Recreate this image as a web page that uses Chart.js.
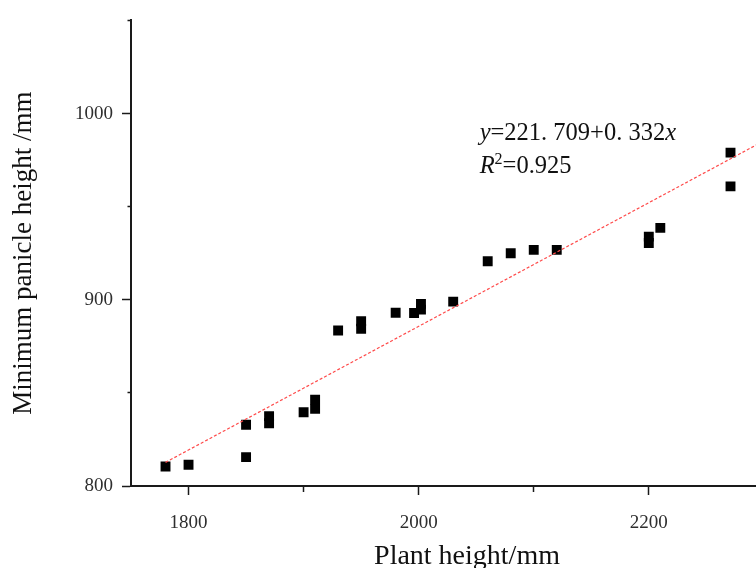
<!DOCTYPE html>
<html>
<head>
<meta charset="utf-8">
<script src="https://cdn.jsdelivr.net/npm/chart.js@4/dist/chart.umd.min.js"></script>
<style>
  html, body { margin: 0; padding: 0; background: #fff; overflow: hidden; width: 756px; height: 568px; }
  #wrap { width: 810px; height: 568px; }
</style>
</head>
<body>
<div id="wrap"><canvas id="c" width="810" height="568"></canvas></div>
<script>
// ---- data ----
const plantHeight   = [1780, 1800, 1850, 1850, 1870, 1870, 1900, 1910, 1910, 1930, 1950, 1950, 1980, 1996, 2002, 2002, 2030, 2060, 2080, 2100, 2120, 2200, 2200, 2210, 2271, 2271];
const panicleHeight = [810.5, 811.4, 832.9, 815.5, 837.5, 833.7, 839.6, 846.4, 841.4, 883.5, 888.5, 884.4, 893.0, 892.9, 897.8, 894.7, 899.0, 920.7, 925.0, 926.8, 926.8, 933.9, 930.5, 938.6, 979.0, 960.9];

// fitted line y = 221.709 + 0.332x, drawn between these end points
const fitIntercept = 221.709;
const fitSlope = 0.332;
const rSquared = 0.925;
const fitLineX = [1780, 2334];
const fitLineY = [812.7, 996.6];

const xTickLabels = [1800, 2000, 2200];
const yTickLabels = [800, 900, 1000];

const xTitle = 'Plant height/mm';
const yTitle = 'Minimum panicle height /mm';

// ---- chart ----
const SERIF = '"Liberation Serif", "Times New Roman", serif';
const AXIS = '#1a1a1a';

const scatterPoints = plantHeight.map((x, i) => ({ x: x, y: panicleHeight[i] }));
const fitPoints = fitLineX.map((x, i) => ({ x: x, y: fitLineY[i] }));

const equationPlugin = {
  id: 'equationText',
  afterDatasetsDraw(chart, args, opts) {
    const { ctx, scales } = chart;
    const px = scales.x.getPixelForValue(opts.atX);
    const py1 = scales.y.getPixelForValue(opts.line1Y);
    const py2 = scales.y.getPixelForValue(opts.line2Y);
    const size = opts.size;
    ctx.save();
    ctx.fillStyle = '#111';
    ctx.textAlign = 'left';
    ctx.textBaseline = 'alphabetic';
    const fmt = v => String(v).replace('.', '. ');
    const line1 = [['italic', 'y', size, 0], ['normal', '=' + fmt(fitIntercept) + '+' + fmt(fitSlope), size, 0], ['italic', 'x', size, 0]];
    const line2 = [['italic', 'R', size, 0], ['normal', '2', Math.round(size * 0.64), -Math.round(size * 0.36)], ['normal', '=' + rSquared.toFixed(3), size, 0]];
    [[line1, py1], [line2, py2]].forEach(([segs, py]) => {
      let cx = px;
      segs.forEach(([style, txt, fs, dy]) => {
        ctx.font = style + ' ' + fs + 'px ' + SERIF;
        ctx.fillText(txt, cx, py + dy);
        cx += ctx.measureText(txt).width;
      });
    });
    ctx.restore();
  }
};

new Chart(document.getElementById('c'), {
  data: {
    datasets: [
      {
        type: 'line',
        data: fitPoints,
        borderColor: '#ff4a4a',
        borderWidth: 1.2,
        borderDash: [3, 2],
        pointRadius: 0,
        fill: false,
        tension: 0
      },
      {
        type: 'scatter',
        data: scatterPoints,
        pointStyle: 'rect',
        pointRadius: 7,
        pointHoverRadius: 7,
        backgroundColor: '#000',
        borderColor: '#000',
        borderWidth: 0
      }
    ]
  },
  options: {
    responsive: false,
    animation: false,
    events: [],
    layout: { padding: { top: 19, right: 0, bottom: 0, left: 0 } },
    plugins: {
      legend: { display: false },
      tooltip: { enabled: false },
      equationText: { atX: 2053, line1Y: 985.8, line2Y: 968.3, size: 24.5 }
    },
    scales: {
      x: {
        type: 'linear',
        position: 'bottom',
        min: 1750,
        max: 2334,
        afterFit(s) { s.height = 82; },
        border: { display: true, color: AXIS, width: 2 },
        grid: {
          drawOnChartArea: false,
          drawTicks: true,
          tickLength: 9,
          tickColor: AXIS,
          tickWidth: 1.5,
          tickBorderDash: c => (c.tick && c.tick.value % 200 !== 0) ? [5, 100] : []
        },
        ticks: {
          stepSize: 100,
          includeBounds: false,
          autoSkip: false,
          maxRotation: 0,
          padding: 17,
          color: '#2e2e2e',
          font: { family: SERIF, size: 19 },
          callback: v => xTickLabels.includes(v) ? String(v) : ''
        },
        title: {
          display: true,
          text: xTitle,
          color: '#111',
          font: { family: SERIF, size: 28, lineHeight: 1 },
          padding: { top: 0, bottom: -3 }
        }
      },
      y: {
        type: 'linear',
        position: 'left',
        min: 800,
        max: 1050,
        afterFit(s) { s.width = 131; },
        border: { display: true, color: AXIS, width: 2 },
        grid: {
          drawOnChartArea: false,
          drawTicks: true,
          tickLength: 9,
          tickColor: AXIS,
          tickWidth: 1.5,
          tickBorderDash: c => (c.tick && c.tick.value % 100 !== 0) ? [0, 5.5, 3.5, 100] : []
        },
        ticks: {
          stepSize: 50,
          includeBounds: false,
          autoSkip: false,
          padding: 9,
          color: '#2e2e2e',
          font: { family: SERIF, size: 19 },
          callback: v => yTickLabels.includes(v) ? String(v) : ''
        },
        title: {
          display: true,
          text: yTitle,
          color: '#111',
          font: { family: SERIF, size: 27, lineHeight: 1 },
          padding: { top: 10, bottom: 0 }
        }
      }
    }
  },
  plugins: [equationPlugin]
});
</script>
</body>
</html>
